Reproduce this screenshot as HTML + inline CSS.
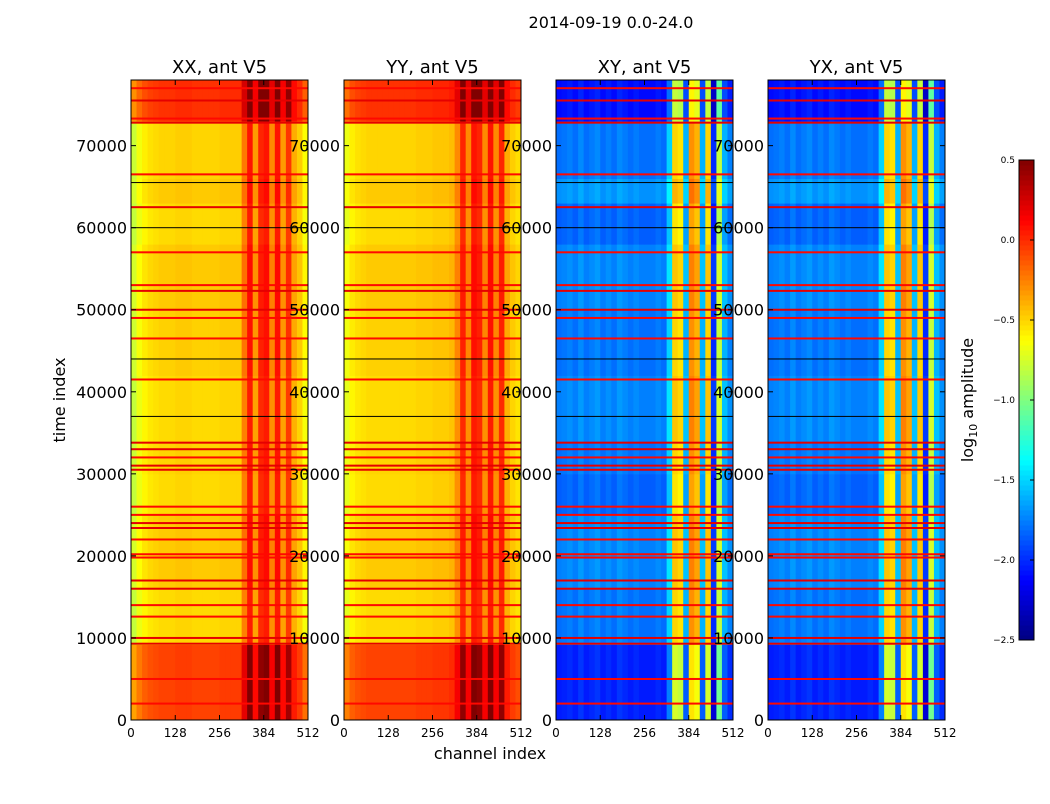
<!DOCTYPE html>
<html><head><meta charset="utf-8"><style>
body{margin:0;background:#fff;width:1050px;height:800px;overflow:hidden;font-family:"DejaVu Sans","Liberation Sans",sans-serif}
svg text{font-family:"DejaVu Sans","Liberation Sans",sans-serif}
</style></head><body>
<svg id="fig" width="1050" height="800" xmlns="http://www.w3.org/2000/svg">
<text x="611" y="28" font-size="16" text-anchor="middle">2014-09-19 0.0-24.0</text>
<text x="490" y="759" font-size="16" text-anchor="middle">channel index</text>
<text x="65" y="400" font-size="16" text-anchor="middle" transform="rotate(-90 65 400)">time index</text>
<text x="973" y="400" font-size="16" text-anchor="middle" transform="rotate(-90 973 400)">log<tspan font-size="11" dy="4">10</tspan><tspan dy="-4"> amplitude</tspan></text>
</svg>
<script>
// ---- data ----
const panelTitles=["XX, ant V5","YY, ant V5","XY, ant V5","YX, ant V5"];
const channelTicks=[0,128,256,384,512];
const timeTicks=[0,10000,20000,30000,40000,50000,60000,70000];
const cbarTicks=[-2.5,-2.0,-1.5,-1.0,-0.5,0.0,0.5];
const xxProfile=[-0.8,-0.68,-0.6,-0.56,-0.54,-0.52,-0.52,-0.52,-0.5,-0.5,-0.5,-0.52,-0.52,-0.52,-0.52,-0.52,-0.5,-0.5,-0.5,-0.5,-0.25,0.05,-0.35,0.0,0.05,-0.3,0.05,-0.35,-0.05,-0.4,-0.5,-0.65];
const yyProfile=[-0.7,-0.6,-0.56,-0.54,-0.52,-0.52,-0.52,-0.52,-0.52,-0.52,-0.52,-0.52,-0.52,-0.5,-0.5,-0.5,-0.48,-0.48,-0.48,-0.45,-0.3,0.0,-0.3,0.05,0.0,-0.3,0.05,-0.3,0.0,-0.4,-0.5,-0.55];
const xyProfile=[-1.8,-1.78,-1.75,-1.8,-1.72,-1.8,-1.76,-1.72,-1.8,-1.75,-1.8,-1.72,-1.76,-1.8,-1.76,-1.8,-1.8,-1.8,-1.76,-1.8,-1.5,-0.5,-0.55,-1.6,-0.3,-0.4,-1.6,-0.5,-2.0,-0.8,-1.6,-1.75];
const yxProfile=[-1.8,-1.78,-1.75,-1.8,-1.72,-1.8,-1.76,-1.72,-1.8,-1.75,-1.8,-1.72,-1.76,-1.8,-1.76,-1.8,-1.8,-1.8,-1.76,-1.8,-1.5,-0.5,-0.55,-1.6,-0.3,-0.4,-1.6,-0.5,-2.0,-0.8,-1.6,-1.75];
const segStarts=[0,9200,16000,25000,30000,34000,42000,50000,58000,63000,66000,73000,78000];
const parOffset=[0.45,0.0,0.05,0.0,0.02,0.0,0.03,0.05,0.0,0.05,0.02,0.5];
const crossOffset=[-0.25,0.0,0.05,-0.05,0.0,0.05,0.0,0.05,-0.05,0.1,0.0,-0.3];
const flagTimes=[2000,5000,9300,10000,12600,14000,16000,17000,19800,20200,22000,23400,24000,25000,26000,30500,31000,32000,33000,33800,41500,46500,49000,50000,52300,53000,57000,62500,66500,72800,73300,75500,77000];
const flagValues=[0.1,0.1,0.2,0.2,0.1,0.1,0.2,0.2,0.1,0.1,0.1,0.2,0.2,0.1,0.1,0.2,0.2,0.1,0.2,0.2,0.1,0.1,0.1,0.2,0.2,0.1,0.1,0.2,0.1,0.2,0.1,0.2,0.1];
const blackTimes=[37000,60000,65500,44000];
// ---- layout ----
const NS="http://www.w3.org/2000/svg";
const svg=document.getElementById('fig');
const panelX=[131,344,556,768],PW=177,PT=80,PB=720,TMAX=78000,CMAX=512;
const vmin=-2.5,vmax=0.5;
function jet(v){let t=(v-vmin)/(vmax-vmin);t=Math.max(0,Math.min(1,t));
 const f=(x)=>Math.max(0,Math.min(1,x));
 const r=f(Math.min(4*t-1.5,-4*t+4.5)),g=f(Math.min(4*t-0.5,-4*t+3.5)),b=f(Math.min(4*t+0.5,-4*t+2.5));
 return `rgb(${Math.round(r*255)},${Math.round(g*255)},${Math.round(b*255)})`;}
function mk(tag,attrs,parent){const e=document.createElementNS(NS,tag);for(const k in attrs)e.setAttribute(k,attrs[k]);(parent||svg).appendChild(e);return e;}
const profiles=[xxProfile,yyProfile,xyProfile,yxProfile];
panelX.forEach((x0,p)=>{
 const xs=c=>x0+c/CMAX*PW, ys=t=>PB-t/TMAX*(PB-PT);
 const g=mk('g',{});
 
 
 const prof=profiles[p],off=p<2?parOffset:crossOffset;
 for(let s=0;s<segStarts.length-1;s++){
  for(let c=0;c<prof.length;c++){
   const c0=c*CMAX/prof.length,c1=(c+1)*CMAX/prof.length;
   const r=mk('rect',{x:xs(c0),y:ys(segStarts[s+1]),width:xs(c1)-xs(c0)+0.5,height:ys(segStarts[s])-ys(segStarts[s+1])+0.5,fill:jet(prof[c]+off[s])},g);
   
   
  }
 }
 flagTimes.forEach((t,i)=>{const r=mk('rect',{x:x0,y:ys(t)-1,width:PW,height:2,fill:jet(flagValues[i])},g);
  
  });
 blackTimes.forEach(t=>{const r=mk('rect',{x:x0,y:ys(t)-0.5,width:PW,height:1,fill:'#000'},g);
  
  });
 const fr=mk('rect',{x:x0,y:PT,width:PW,height:PB-PT,fill:'none',stroke:'#000','stroke-width':1});
 
 
 const tt=mk('text',{x:x0+PW/2,y:73,'font-size':18,'text-anchor':'middle'});tt.textContent=panelTitles[p];
 
 
 channelTicks.forEach(c=>{mk('line',{x1:xs(c),x2:xs(c),y1:PB,y2:PB-5,stroke:'#000'});mk('line',{x1:xs(c),x2:xs(c),y1:PT,y2:PT+5,stroke:'#000'});
  const l=mk('text',{x:xs(c),y:PB+17,'font-size':12,'text-anchor':'middle'});l.textContent=c;
  
  });
 timeTicks.forEach(t=>{mk('line',{x1:x0,x2:x0+5,y1:ys(t),y2:ys(t),stroke:'#000'});mk('line',{x1:x0+PW,x2:x0+PW-5,y1:ys(t),y2:ys(t),stroke:'#000'});
  const l=mk('text',{x:x0-4,y:ys(t)+6,'font-size':16,'text-anchor':'end'});l.textContent=t;
  
  });
});
const CX=1019,CW=15,CT=160,CB=640;
const cys=v=>CB-(v-vmin)/(vmax-vmin)*(CB-CT);
const cb=mk('g',{});


for(let i=0;i<96;i++){const v0=vmin+i*(vmax-vmin)/96,v1=vmin+(i+1)*(vmax-vmin)/96;
 mk('rect',{x:CX,y:cys(v1),width:CW,height:cys(v0)-cys(v1)+0.5,fill:jet((v0+v1)/2)},cb);}
mk('rect',{x:CX,y:CT,width:CW,height:CB-CT,fill:'none',stroke:'#000'},cb);
cbarTicks.forEach(v=>{mk('line',{x1:CX+CW,x2:CX+CW-4,y1:cys(v),y2:cys(v),stroke:'#000'},cb);
 const l=mk('text',{x:CX-4,y:cys(v)+3,'font-size':9,'text-anchor':'end'},cb);l.textContent=(v<0?'\u2212':'')+Math.abs(v).toFixed(1);
 
 });
</script>
</body></html>
